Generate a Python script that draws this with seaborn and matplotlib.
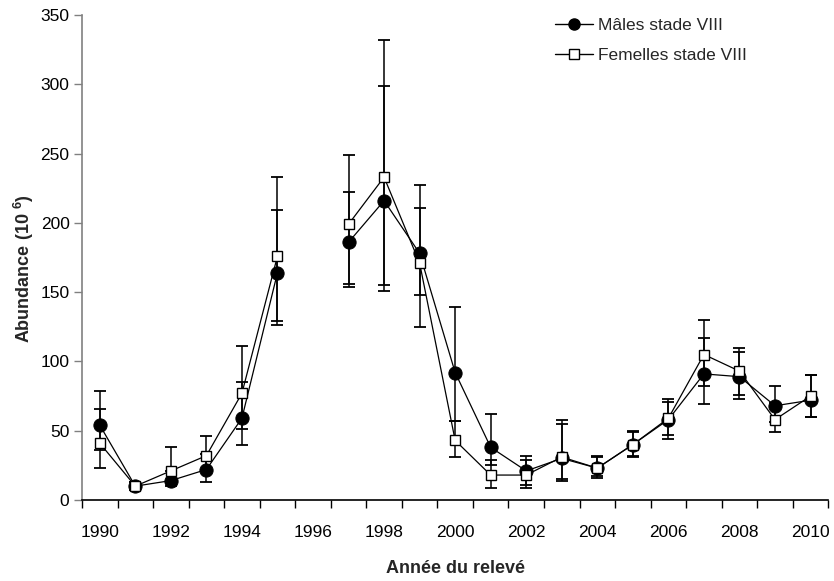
import numpy as np
import pandas as pd
import matplotlib
matplotlib.use("Agg")
import matplotlib.pyplot as plt
from matplotlib.lines import Line2D
from matplotlib.ticker import FixedLocator
import seaborn as sns

years = list(range(1990, 2011))
tick_years = [str(y) for y in range(1990, 2011, 2)]
nan = np.nan
males = [54, 10, 14, 22, 59, 164, nan, 186, 216, 178, 92, 38, 21, 30, 23, 40, 58, 91, 89, 68, 72]
males_lo = [36, 7, 10, 13, 40, 126, nan, 156, 155, 148, 57, 25, 11, 15, 16, 31, 47, 69, 73, 56, 60]
males_hi = [79, 13, 21, 33, 85, 209, nan, 222, 299, 227, 139, 62, 32, 55, 32, 49, 71, 117, 107, 82, 90]
females = [41, 10, 21, 32, 77, 176, nan, 199, 233, 171, 43, 18, 18, 31, 23, 40, 59, 105, 93, 58, 75]
females_lo = [23, 7, 12, 21, 51, 129, nan, 154, 151, 125, 31, 9, 9, 14, 17, 32, 44, 82, 76, 49, 60]
females_hi = [66, 13, 38, 46, 111, 233, nan, 249, 332, 211, 57, 29, 29, 58, 31, 50, 73, 130, 110, 70, 90]
series_names = ["Mâles stade VIII", "Femelles stade VIII"]

sns.set_theme(style="white")
plt.rcParams["font.family"] = ["Liberation Sans", "DejaVu Sans"]
plt.rcParams["mathtext.fontset"] = "custom"
plt.rcParams["mathtext.rm"] = "Liberation Sans"
plt.rcParams["mathtext.bf"] = "Liberation Sans:bold"

FS = 12.5
FS_LAB = 13

fig = plt.figure(figsize=(8.34, 5.81), dpi=100)
ax = fig.add_axes([82 / 834, 1 - 500 / 581, (828.3 - 82) / 834, (500 - 15) / 581])

def make_df(vals, lo, hi, name):
    pos = np.arange(len(years))
    v = np.array(vals, dtype=float)
    seg = np.cumsum(np.isnan(v))
    return pd.DataFrame({"pos": pos, "val": v, "lo": lo, "hi": hi, "seg": seg, "series": name})

dm = make_df(males, males_lo, males_hi, series_names[0])
dfm = make_df(females, females_lo, females_hi, series_names[1])

for d in (dm, dfm):
    ok = d.dropna()
    ax.errorbar(ok["pos"], ok["val"],
                yerr=[ok["val"] - ok["lo"], ok["hi"] - ok["val"]],
                fmt="none", ecolor="black", elinewidth=1.1, capsize=4, capthick=1.3, zorder=2)

sns.lineplot(data=dm.dropna(), x="pos", y="val", units="seg", estimator=None, ax=ax,
             color="black", lw=0.9, marker="o", markersize=9.5,
             markerfacecolor="black", markeredgecolor="black", zorder=3)
sns.lineplot(data=dfm.dropna(), x="pos", y="val", units="seg", estimator=None, ax=ax,
             color="black", lw=0.9, marker="s", markersize=7.8,
             markerfacecolor="white", markeredgecolor="black", markeredgewidth=1.0, zorder=4)

ax.set_xlim(-0.5, 20.5)
ax.set_ylim(0, 350)
ax.set_yticks(range(0, 351, 50))
ax.xaxis.set_major_locator(FixedLocator(list(range(0, 21, 2))))
ax.set_xticklabels(tick_years)
ax.xaxis.set_minor_locator(FixedLocator([i - 0.5 for i in range(22)]))
ax.tick_params(axis="x", which="major", length=0, pad=18, labelsize=FS, colors="black")
ax.tick_params(axis="x", which="minor", length=6, width=1, direction="out", color="black", bottom=True)
ax.tick_params(axis="y", which="major", length=6, width=1, direction="out", color="#808080",
               labelsize=FS, labelcolor="black", left=True, pad=3)

for s in ("top", "right"):
    ax.spines[s].set_visible(False)
ax.spines["bottom"].set_color("black")
ax.spines["bottom"].set_linewidth(1.2)
ax.spines["left"].set_color("#808080")
ax.spines["left"].set_linewidth(1.2)

ax.set_xlabel("Année du relevé", fontsize=FS_LAB, fontweight="bold")
ax.set_ylabel(r"Abundance (10 $^{\mathbf{6}}$)", fontsize=FS_LAB, fontweight="bold")
ax.xaxis.set_label_coords(0.5, -0.124)
ax.yaxis.set_label_coords(-0.062, 0.478)

handles = [
    Line2D([], [], color="black", lw=1.0, marker="o", markersize=8, markerfacecolor="black", markeredgecolor="black"),
    Line2D([], [], color="black", lw=1.0, marker="s", markersize=7, markerfacecolor="white", markeredgecolor="black"),
]
ax.legend(handles, series_names, loc="upper left", bbox_to_anchor=(0.634, 0.994), frameon=False,
          fontsize=FS, handlelength=2.2, handletextpad=0.25, labelspacing=0.84,
          borderpad=0, borderaxespad=0)

fig.savefig("out.png", dpi=100)
